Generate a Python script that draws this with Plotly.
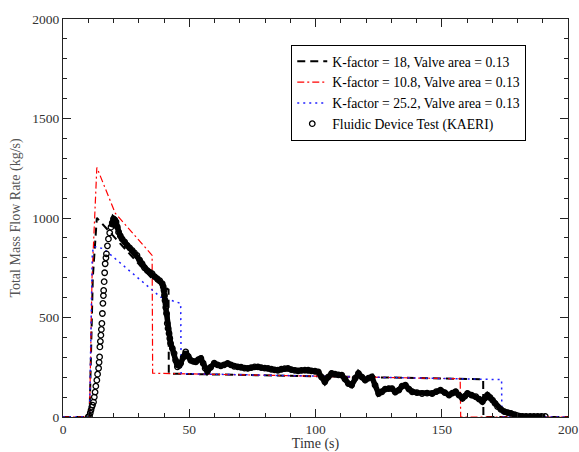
import plotly.graph_objects as go

# K-factor = 18 (black dashed)
k18_t = [0, 10.5, 11.8, 13.4, 34.7, 41.8, 41.9, 166.4, 166.5, 200]
k18_y = [0, 0, 700, 1001, 703, 640, 218, 190, 0, 0]

# K-factor = 10.8 (red dash-dot)
k108_t = [0, 10.5, 11.5, 13.4, 20.7, 35.3, 35.5, 157.3, 157.5, 200]
k108_y = [0, 0, 700, 1254, 1024, 812, 220, 192, 0, 0]

# K-factor = 25.2 (blue dotted)
k252_t = [0, 10.5, 11.6, 12.1, 16.0, 38.6, 46.6, 46.8, 173.7, 173.8, 200]
k252_y = [0, 0, 820, 857, 846, 603, 571, 218, 188, 0, 0]

# Fluidic device test (KAERI)
test_t = [10.0, 10.5, 10.8, 11.1, 11.4, 11.7, 12.1, 12.4, 12.7, 13.0, 13.4, 13.7, 14.1, 14.3,
          14.5, 14.6, 14.8, 15.0, 15.2, 15.4, 15.6, 15.8, 16.0, 16.1, 16.3, 16.5, 16.7, 17.0,
          17.2, 17.6, 18.0, 18.5, 19.0, 19.5, 20.0, 20.5, 21.0, 21.5, 22.0, 22.7, 23.4, 24.4,
          25.4, 26.4, 27.4, 28.3, 29.3, 30.3, 31.3, 32.3, 33.3, 34.3, 35.3, 36.3, 37.3, 38.3,
          39.3, 39.7, 40.0, 40.2, 40.4, 40.7, 41.0, 41.3, 41.6, 42.0, 42.3, 42.6, 43.3, 44.0,
          44.6, 45.3, 46.0, 46.6, 47.6, 48.6, 49.6, 50.6, 51.6, 52.6, 53.6, 54.6, 55.5, 56.3,
          57.2, 58.5, 59.9, 61.2, 62.5, 63.8, 65.2, 66.5, 67.8, 69.2, 70.5, 71.9, 73.2, 74.5,
          75.9, 77.2, 78.5, 79.9, 81.2, 82.5, 83.8, 85.1, 86.5, 87.8, 89.1, 90.4, 91.8, 93.1,
          94.4, 95.8, 97.1, 98.4, 99.8, 101.1, 102.4, 103.7, 105.0, 106.4, 107.7, 109.1, 110.4,
          111.7, 113.0, 114.3, 115.7, 117.0, 118.4, 119.7, 121.0, 122.3, 123.6, 125.0, 126.3,
          127.6, 129.0, 130.3, 131.6, 133.0, 134.3, 135.6, 137.0, 138.3, 140.2, 142.2, 144.2,
          146.2, 147.8, 149.5, 151.2, 152.9, 154.2, 155.5, 156.8, 158.2, 159.2, 160.2, 161.8,
          163.5, 164.8, 166.1, 167.1, 168.1, 169.1, 170.1, 171.1, 172.1, 173.4, 174.8, 176.1,
          177.4, 179.0, 180.7, 182.0, 183.4, 185.0, 186.5, 188.0, 189.5, 191.0]
test_y = [0, 5, 20, 35, 50, 60, 75, 100, 125, 155, 185, 215, 245, 275,
          302, 352, 380, 411, 440, 470, 520, 571, 610, 636, 680, 725, 770, 800,
          820, 860, 895, 925, 954, 975, 996, 990, 980, 955, 929, 910, 895, 880,
          862, 850, 837, 825, 812, 790, 770, 750, 737, 728, 720, 705, 695, 685,
          670, 655, 636, 610, 586, 550, 520, 470, 445, 420, 395, 370, 345, 320,
          285, 252, 258, 270, 300, 327, 305, 285, 280, 277, 288, 294, 270, 245,
          230, 250, 270, 262, 257, 262, 269, 262, 255, 252, 250, 246, 244, 248,
          252, 252, 248, 246, 244, 240, 237, 235, 240, 243, 244, 238, 234, 232,
          234, 236, 235, 232, 230, 227, 200, 177, 200, 219, 215, 212, 210,
          190, 168, 160, 195, 219, 200, 185, 195, 202, 160, 118, 127,
          140, 143, 143, 125, 135, 155, 160, 140, 127, 122, 118, 120,
          118, 128, 135, 122, 110, 120, 127, 110, 94, 105, 118, 110,
          102, 90, 77, 95, 110, 98, 85, 68, 52, 38, 27, 22,
          18, 10, 3, 3, 3, 3, 3, 3, 3, 3]

x_ticks = [0, 50, 100, 150, 200]
y_ticks = [0, 500, 1000, 1500, 2000]

font_family = "Liberation Serif"

# index where the test samples become dense (peak onward)
dense_start = test_t.index(19.0)

fig = go.Figure()
fig.add_trace(go.Scatter(x=k18_t, y=k18_y, mode="lines", name="K-factor = 18, Valve area = 0.13",
                         line=dict(color="black", width=2, dash="8px,5px")))
fig.add_trace(go.Scatter(x=k108_t, y=k108_y, mode="lines", name="K-factor = 10.8, Valve area = 0.13",
                         line=dict(color="#ff0000", width=1.2, dash="7px,3px,2px,3px")))
fig.add_trace(go.Scatter(x=k252_t, y=k252_y, mode="lines", name="K-factor = 25.2, Valve area = 0.13",
                         line=dict(color="#2020ff", width=1.5, dash="2px,4px")))
# dense overlapping samples appear as a solid band
fig.add_trace(go.Scatter(x=test_t[dense_start:], y=test_y[dense_start:], mode="lines",
                         showlegend=False, hoverinfo="skip",
                         line=dict(color="black", width=5.5)))
fig.add_trace(go.Scatter(x=test_t, y=test_y, mode="markers", name="Fluidic Device Test (KAERI)",
                         marker=dict(symbol="circle-open", color="black", size=5.5,
                                     line=dict(width=1.3, color="black"))))

axis_common = dict(
    showline=True, linecolor="#222", linewidth=1, mirror="ticks",
    ticks="inside", ticklen=8, tickcolor="#222", tickwidth=1,
    showgrid=False, zeroline=False, automargin=False,
    tickfont=dict(family=font_family, size=13.5, color="#333"),
)

fig.update_xaxes(range=[0, 200], tickvals=x_ticks,
                 minor=dict(ticks="inside", dtick=10, ticklen=4, tickcolor="#222"),
                 title=dict(text="Time (s)", font=dict(family=font_family, size=14, color="#333"), standoff=6),
                 **axis_common)
fig.update_yaxes(range=[0, 2000], tickvals=y_ticks,
                 minor=dict(ticks="inside", dtick=100, ticklen=4, tickcolor="#222"),
                 title=dict(text="Total Mass Flow Rate (kg/s)", font=dict(family=font_family, size=14, color="#555"), standoff=8),
                 **axis_common)

fig.update_layout(
    width=579, height=452,
    margin=dict(l=63, r=11, t=19, b=35),
    paper_bgcolor="white", plot_bgcolor="white",
    font=dict(family=font_family, size=14, color="black"),
    legend=dict(x=0.452, y=0.935, xanchor="left", yanchor="top",
                bordercolor="black", borderwidth=1, bgcolor="white",
                font=dict(family=font_family, size=13.7, color="black"),
                tracegroupgap=0, itemwidth=30),
    showlegend=True,
)

fig.write_html("out.html", config={"displayModeBar": False},
               post_script="document.body.style.margin='0px';")
